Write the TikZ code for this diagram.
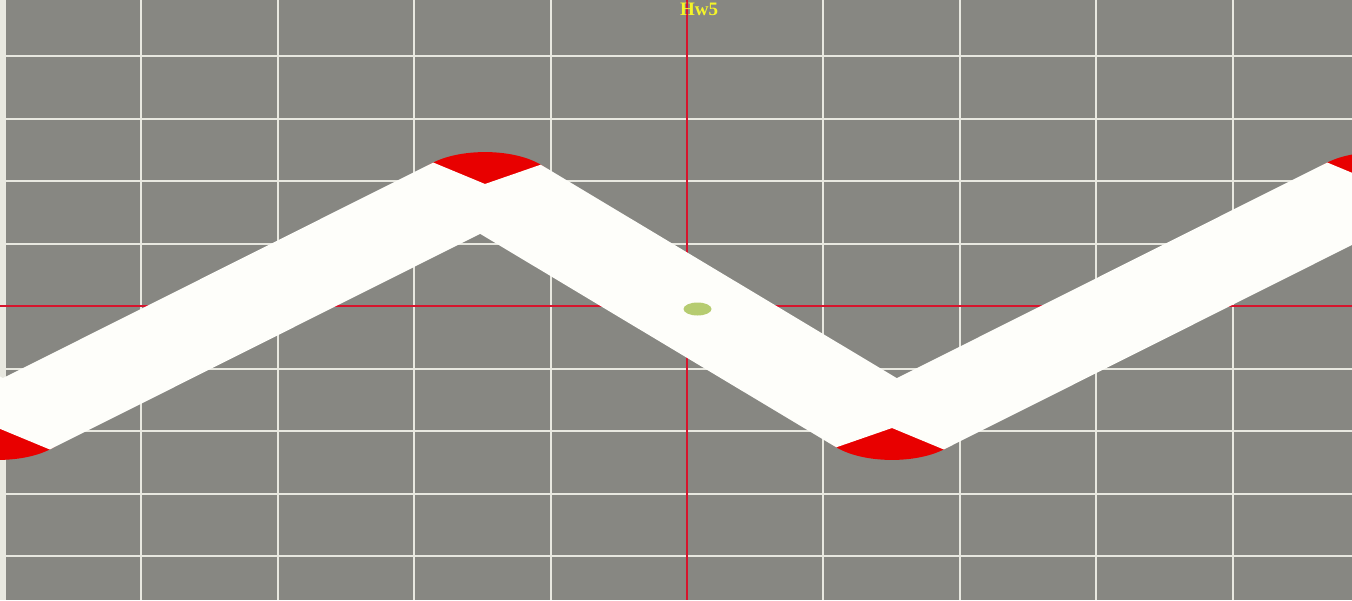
\documentclass[tikz,border=0pt]{standalone}
\usepackage{fontspec}
\setmainfont{Liberation Serif}
\usepackage{tikz}
\definecolor{floorgray}{RGB}{135,135,130}
\definecolor{gridwhite}{RGB}{232,232,224}
\definecolor{axisred}{RGB}{215,20,45}
\definecolor{roadwhite}{RGB}{254,254,250}
\definecolor{jointred}{RGB}{232,0,0}
\definecolor{ballgreen}{RGB}{182,204,112}
\definecolor{titleyellow}{RGB}{245,245,40}

\begin{document}
\begin{tikzpicture}[x=1pt,y=-1pt,
    gridline/.style={draw=gridwhite,line width=2pt},
    axisline/.style={draw=axisred,line width=1.6pt},
    road/.style={draw=roadwhite,line width=140pt,line cap=butt},
    joint/.style={fill=jointred}]
    \useasboundingbox (0,0) rectangle (1352,600);
    \fill[floorgray] (0,0) rectangle (1352,600);
    \fill[gridwhite] (0,0) rectangle (4,600);

    \foreach \k in {-5,...,4}
        \draw[gridline] (687+136.4*\k,0) -- (687+136.4*\k,600);
    \foreach \k in {-4,...,4}
        \draw[gridline] (0,306+62.5*\k) -- (1352,306+62.5*\k);
    \draw[axisline] (687,0) -- (687,600);
    \draw[axisline] (0,306) -- (1352,306);

    \begin{scope}
        \clip (0,0) rectangle (1352,600);
        \begin{scope}[transform canvas={yscale=0.456}]
            \coordinate (vm1) at (-409,403.5);
            \coordinate (v0) at (-2,938.6);
            \coordinate (v1) at (485,403.5);
            \coordinate (v2) at (892,938.6);
            \coordinate (v3) at (1379,403.5);
            \coordinate (v4) at (1786,938.6);
            \foreach \v in {v0,v1,v2,v3}
                \fill[joint] (\v) circle[radius=70];
            \foreach \a/\b in {vm1/v0,v0/v1,v1/v2,v2/v3,v3/v4}
                \draw[road] (\a) -- (\b);
        \end{scope}
    \end{scope}

    \fill[ballgreen] (697.5,309) ellipse[x radius=14,y radius=6.5];
    \node[text=titleyellow,font=\bfseries\fontsize{19}{19}\selectfont,anchor=base] (title) at (699,15) {Hw5};
\end{tikzpicture}
\end{document}
